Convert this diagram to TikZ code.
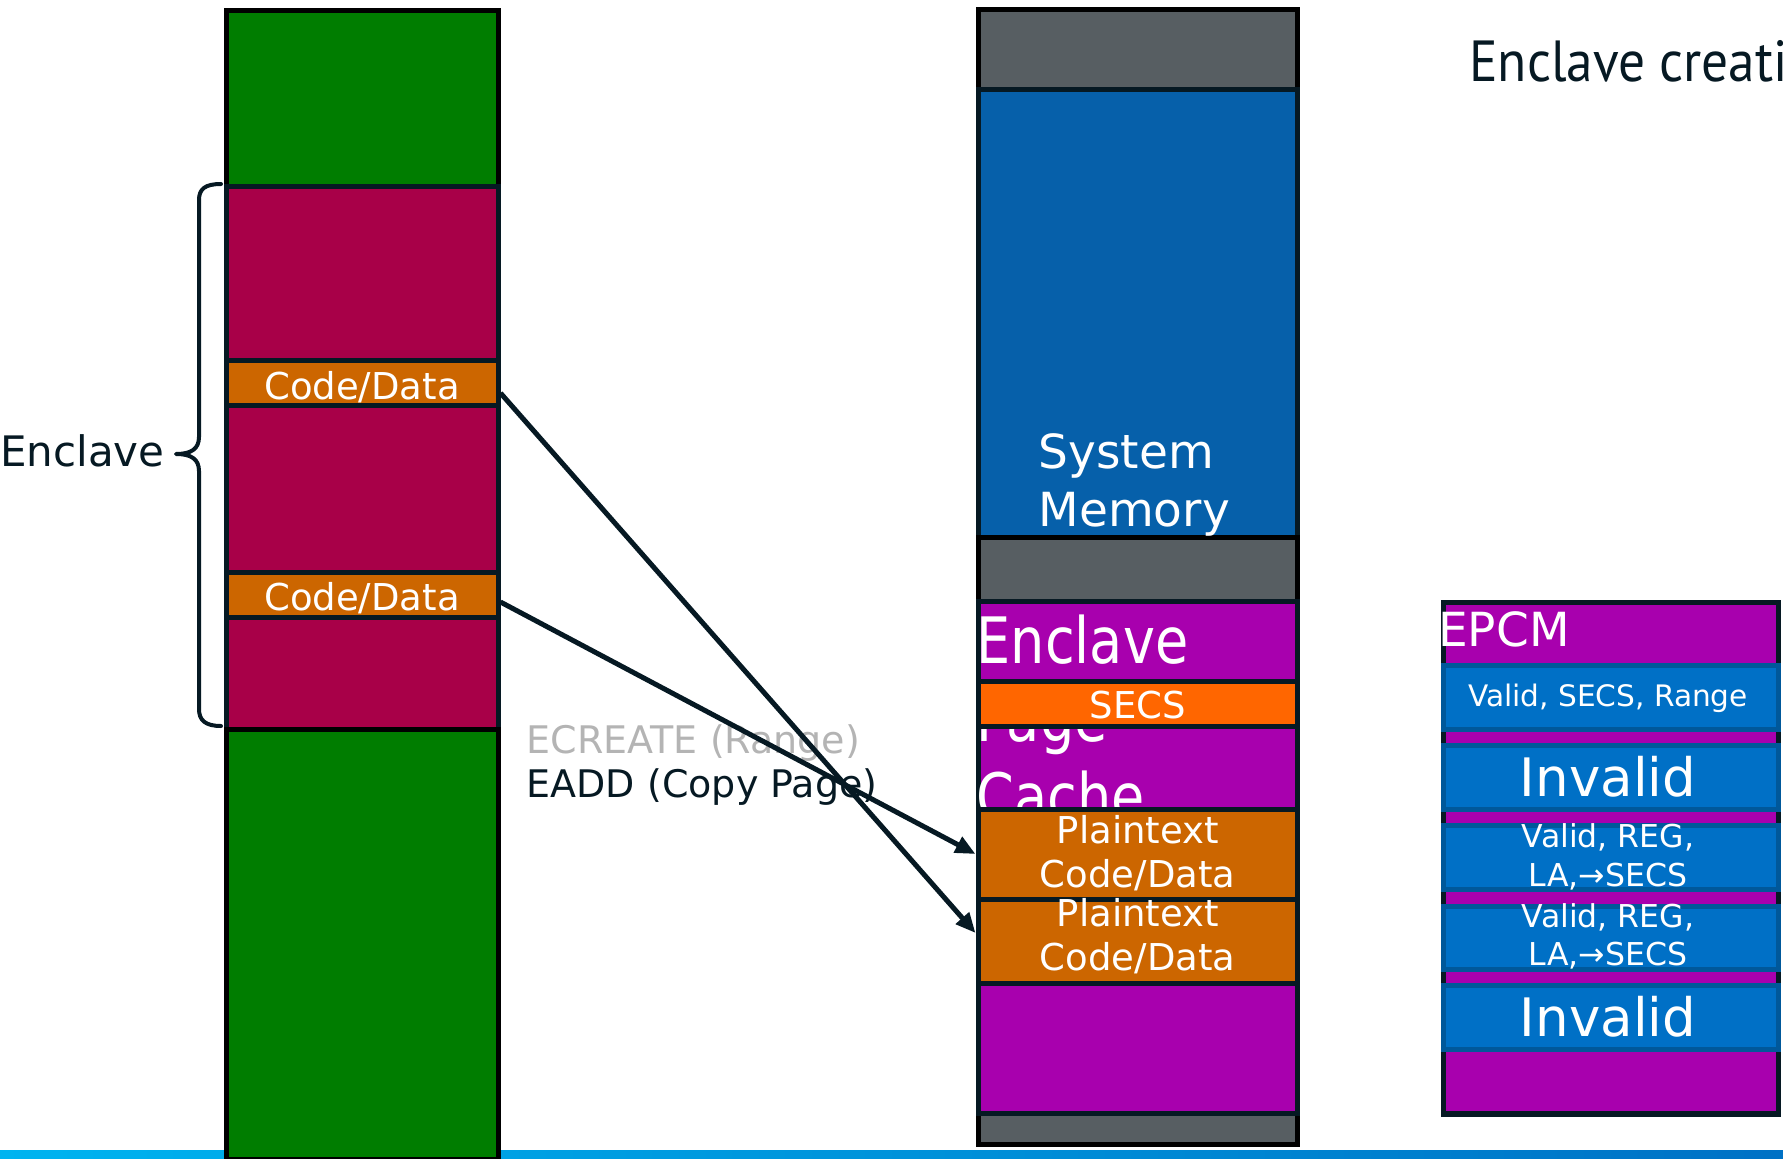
\documentclass[tikz,border=0pt]{standalone}
\usepackage{fontspec}
\setmainfont{DejaVu Sans}
\newfontfamily\titlefont{PT Sans}
\usetikzlibrary{arrows.meta,calc}

\definecolor{ink}{HTML}{061923}
\definecolor{memgreen}{HTML}{007D00}
\definecolor{crimson}{HTML}{A80048}
\definecolor{pageorange}{HTML}{CC6600}
\definecolor{slate}{HTML}{575E62}
\definecolor{sysblue}{HTML}{0660AA}
\definecolor{epcpurple}{HTML}{A800AE}
\definecolor{secsorange}{HTML}{FF6600}
\definecolor{rowblue}{HTML}{0070C6}
\definecolor{rowedge}{HTML}{00589A}
\definecolor{hint}{HTML}{B4B4B4}
\definecolor{barL}{HTML}{00B4F0}
\definecolor{barR}{HTML}{0071C5}

\newcommand\fsz[2]{\fontsize{#1}{#2}\selectfont}

\begin{document}
\begin{tikzpicture}[x=1pt,y=-1pt,
  seg/.style={draw=ink, line width=5pt, fill=#1, inner sep=0pt, anchor=north west},
  blk/.style={seg=#1, draw=black},
  row/.style={draw=rowedge, line width=5pt, fill=rowblue, inner sep=0pt,
              anchor=north west, minimum width=335pt},
  lbl/.style={text=white, inner sep=0pt},
  conn/.style={draw=ink, line width=5pt, -{Triangle[length=20pt,width=17pt]}},
]
\useasboundingbox (0,0) rectangle (1783,1159);
\clip (0,0) rectangle (1783,1159);

% footer strip
\shade[left color=barL, right color=barR] (0,1150) rectangle (1783,1159);

% ---- application address space ----
\begin{scope}[every node/.append style={minimum width=272pt}]
\node[blk=memgreen, minimum height=175.5pt] (lg1) at (223.5,8) {};
\node[seg=crimson,  minimum height=174pt]   (le1) at (223.5,183.5) {};
\node[seg=pageorange, minimum height=45.5pt] (cd1) at (223.5,357.5) {};
\node[seg=crimson,  minimum height=166.5pt] (le2) at (223.5,403) {};
\node[seg=pageorange, minimum height=45pt]  (cd2) at (223.5,569.5) {};
\node[seg=crimson,  minimum height=112pt]   (le3) at (223.5,614.5) {};
\node[blk=memgreen, minimum height=430pt]   (lg2) at (223.5,726.5) {};
\end{scope}
\node[lbl, anchor=base, font=\fsz{37}{44}] (cd1t) at ($(cd1.south)+(0,-9)$) {Code/Data};
\node[lbl, anchor=base, font=\fsz{37}{44}] (cd2t) at ($(cd2.south)+(0,-9)$) {Code/Data};

% brace around the enclave range
\draw[ink, line width=4pt, line cap=round, line join=round]
  (221,184) .. controls (205,184) and (199,189) .. (199,200) -- (199,437)
  .. controls (199,449) and (191,454) .. (176,454)
  .. controls (191,454) and (199,459) .. (199,471) -- (199,709)
  .. controls (199,720) and (205,726) .. (221,726);
\node[anchor=base west, inner sep=0pt, text=ink, font=\fsz{42}{50}] (enc) at (0,466) {Enclave};

% ---- physical memory ----
\begin{scope}[every node/.append style={minimum width=319.5pt}]
\node[blk=slate,     minimum height=79.5pt] (mg1) at (975.5,7) {};
\node[seg=sysblue,   minimum height=448pt]  (sys) at (975.5,86.5) {};
\node[blk=slate,     minimum height=64pt]   (mg2) at (975.5,534.5) {};
\node[blk=slate,     minimum height=31pt]   (mg3) at (975.5,1110.5) {};
\node[seg=epcpurple, minimum height=512pt]  (epc) at (975.5,598.5) {};
\end{scope}
\node[lbl, anchor=base west, font=\fsz{47}{57.5}] (syst) at (1038.5,468.6)
  {\begin{tabular}[t]{@{}l@{}}System\\Memory\end{tabular}};
\node[lbl, anchor=base west, font=\fsz{64}{78}] (epct) at (976.5,663)
  {\scalebox{0.845}[1]{\begin{tabular}[t]{@{}l@{}}Enclave\\Page\\Cache\end{tabular}}};
\begin{scope}[every node/.append style={minimum width=319.5pt}]
\node[seg=secsorange, minimum height=45pt] (secs) at (975.5,678.5) {};
\node[seg=pageorange, minimum height=90pt] (pt1) at (975.5,806.5) {};
\node[seg=pageorange, minimum height=84pt] (pt2) at (975.5,896.5) {};
\end{scope}
\node[lbl, anchor=base, font=\fsz{37}{44}] (secst) at ($(secs.south)+(0,-10)$) {SECS};
\node[lbl, anchor=base, font=\fsz{37}{44}] (pt1t) at ($(pt1.north)+(0,37)$)
  {\begin{tabular}[t]{@{}c@{}}Plaintext\\Code/Data\end{tabular}};
\node[lbl, anchor=base, font=\fsz{37}{43.7}] (pt2t) at ($(pt2.north)+(0,30)$)
  {\begin{tabular}[t]{@{}c@{}}Plaintext\\Code/Data\end{tabular}};

% ---- EPCM ----
\node[seg=epcpurple, line width=5.5pt, minimum width=335pt, minimum height=511.5pt] (epcm) at (1440.5,599.5) {};
\node[lbl, anchor=base west, font=\fsz{47}{56}] (epcmt) at (1438,646.5) {EPCM};
\node[row, minimum height=64pt]   (r1) at (1440.5,663) {};
\node[row, minimum height=64pt]   (r2) at (1440.5,743) {};
\node[row, minimum height=64pt]   (r3) at (1440.5,823) {};
\node[row, minimum height=63.5pt] (r4) at (1440.5,903.5) {};
\node[row, minimum height=64pt]   (r5) at (1440.5,983) {};
\node[lbl, anchor=base, font=\fsz{29.6}{36}] (r1t) at (1608,706.7) {Valid, SECS, Range};
\node[lbl, anchor=base, font=\fsz{53}{64}] (r2t) at (1608,796) {Invalid};
\node[lbl, anchor=base, font=\fsz{31.5}{38.8}] (r3t) at (1608,847.7)
  {\begin{tabular}[t]{@{}c@{}}Valid, REG,\\LA,→SECS\end{tabular}};
\node[lbl, anchor=base, font=\fsz{31.5}{38.8}] (r4t) at (1608,927)
  {\begin{tabular}[t]{@{}c@{}}Valid, REG,\\LA,→SECS\end{tabular}};
\node[lbl, anchor=base, font=\fsz{53}{64}] (r5t) at (1608,1036) {Invalid};

% ---- instruction labels and page copies ----
\node[anchor=base west, inner sep=0pt, text=hint, font=\fsz{38}{45}] (ecreate) at (526.5,753.5) {ECREATE (Range)};
\node[anchor=base west, inner sep=0pt, text=ink, font=\fsz{38}{45}] (eadd) at (526.5,797) {EADD (Copy Page)};

\draw[conn] ($(cd1.east)+(0,10.3)$) -- ($(pt2.west)+(0,-8)$);
\draw[conn] ($(cd2.east)+(0,7.5)$) -- (pt1.west);

% slide title
\node[anchor=base west, inner sep=0pt, text=ink, font=\titlefont\fsz{58}{70}] (title) at (1469,81)
  {\scalebox{0.92}[1]{Enclave creati}};
\end{tikzpicture}
\end{document}
